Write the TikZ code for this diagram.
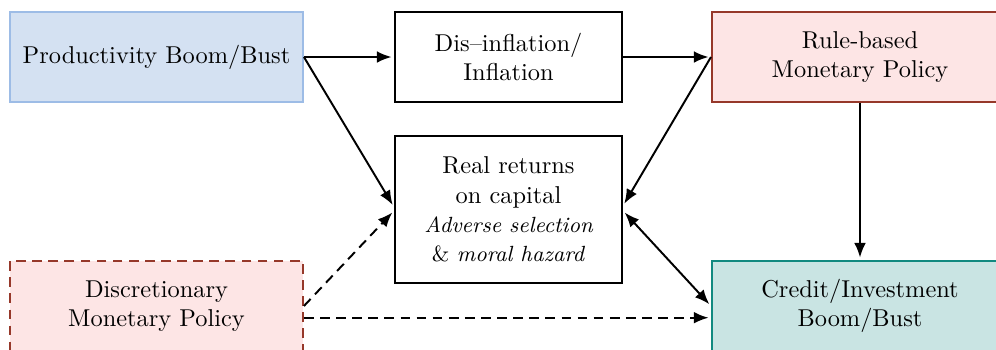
\documentclass[tikz,border=0pt]{standalone}
\usepackage{amsmath}
\usepackage{tikz}
\usetikzlibrary{shapes,arrows,arrows.meta,positioning}

\definecolor{prodfill}{RGB}{212,225,242}
\definecolor{proddraw}{RGB}{157,188,230}
\definecolor{polfill}{RGB}{253,229,229}
\definecolor{poldraw}{RGB}{150,56,42}
\definecolor{credfill}{RGB}{201,228,227}
\definecolor{creddraw}{RGB}{17,137,128}

\begin{document}
\begin{tikzpicture}[x=0.41pt,y=-0.41pt,>={Latex[length=6pt,width=4.8pt]},
    box/.style={draw,thick,align=center,minimum height=36.9pt,inner sep=2pt},
    link/.style={->,thick,shorten >=1pt},
    dashline/.style={dash pattern=on 4pt off 2.6pt}]
    % Frame of the picture (boxes on the right and bottom are cut off)
    \useasboundingbox (0,0) rectangle (996,349);
    \clip (0,0) rectangle (996,349);

    % Top row
    \node[box,fill=prodfill,draw=proddraw,minimum width=120.1pt] (prod) at (156.5,57) {Productivity Boom/Bust};
    \node[box,minimum width=93.1pt] (infl) at (508.5,57) {Dis--inflation/\\Inflation};
    \node[box,fill=polfill,draw=poldraw,minimum width=121.4pt] (rule) at (860,57) {Rule-based\\Monetary Policy};

    % Middle and bottom
    \node[box,minimum width=93.1pt,minimum height=60.3pt] (real) at (508.5,209.5)
        {Real returns\\on capital\\{\small\itshape Adverse selection}\\{\small\& \textit{moral hazard}}};
    \node[box,dashline,fill=polfill,draw=poldraw,minimum width=120.1pt] (disc) at (156.5,306) {Discretionary\\Monetary Policy};
    \node[box,fill=credfill,draw=creddraw,minimum width=121.4pt] (cred) at (860,306) {Credit/Investment\\Boom/Bust};

    % Channels
    \draw[link] (prod.east) -- (infl.west);
    \draw[link] (infl.east) -- (rule.west);
    \draw[link] (prod.east) -- ([yshift=1pt]real.west);
    \draw[link] (rule.west) -- ([yshift=1.5pt]real.east);
    \draw[link] (rule.south) -- (cred.north);
    \draw[link,<->,shorten <=1pt] ([yshift=-0.5pt]real.east) -- (cred.west);
    \draw[link,dashline] (disc.east) -- ([yshift=-0.5pt]real.west);
    \draw[link,dashline] ([yshift=-4.8pt]disc.east) -- ([yshift=-4.8pt]cred.west);
\end{tikzpicture}
\end{document}
